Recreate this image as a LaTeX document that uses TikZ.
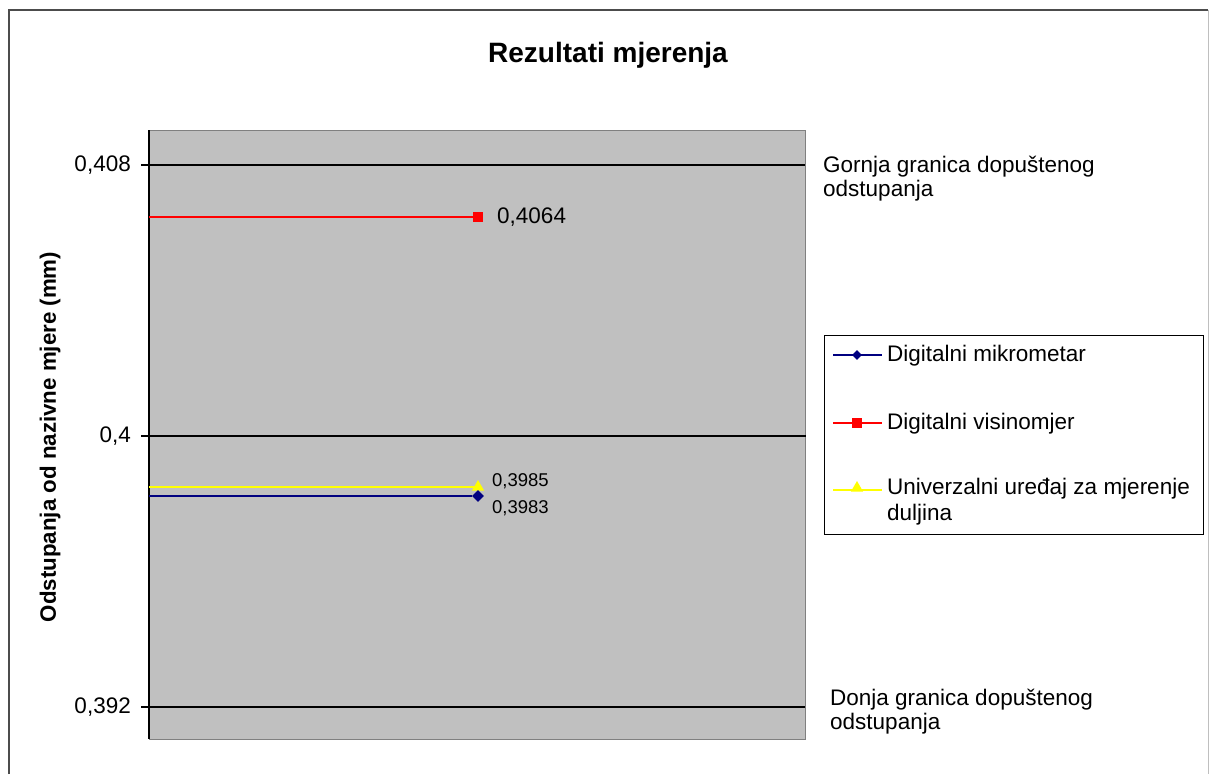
\documentclass[tikz,border=0pt]{standalone}
\usepackage{fontspec}
\setmainfont{Liberation Sans}
\usepackage{xcolor}
\usepackage{tikz}
\usetikzlibrary{shapes}
\definecolor{plotgray}{HTML}{C0C0C0}
\definecolor{navyblue}{HTML}{000080}
\definecolor{pureyellow}{HTML}{FFFF00}
\definecolor{purered}{HTML}{FF0000}
\tikzstyle{txt} = [inner sep=0pt, font=\fontsize{22.5}{24}\selectfont]
\tikzstyle{ticklab} = [txt, anchor=east]
\tikzstyle{smalltxt} = [inner sep=0pt, anchor=west, font=\fontsize{18.5}{20}\selectfont]
\tikzstyle{gridline} = [draw, line width=1.5pt]
\tikzstyle{redline} = [draw=purered, line width=1.2pt]
\tikzstyle{blueline} = [draw=navyblue, line width=1.2pt]
\tikzstyle{yellowline} = [draw=pureyellow, line width=1.5pt]
\tikzstyle{redmark} = [rectangle, fill=purered, inner sep=0pt, minimum size=10pt]
\tikzstyle{bluemark} = [diamond, fill=navyblue, inner sep=0pt, minimum size=12pt]
\tikzstyle{yellowmark} = [regular polygon, regular polygon sides=3, fill=pureyellow, inner sep=0pt, minimum size=14pt]

\begin{document}
\begin{tikzpicture}[x=1pt, y=-1pt]
\useasboundingbox (0,0) rectangle (1209,774);
\draw [draw=black!70, line width=1.5pt] (9,774) -- (9,10) -- (1208,10);
\draw [draw=black!25, line width=1pt] (1208,10) -- (1208,774);
\node [inner sep=0pt, anchor=base, font=\bfseries\fontsize{28}{32}\selectfont] (title) at (608,62) {Rezultati mjerenja};
\node [inner sep=0pt, rotate=90, font=\bfseries\fontsize{22.3}{26}\selectfont] (y-title) at (50,437) {Odstupanja od nazivne mjere (mm)};
\path [fill=plotgray, draw=black!50, line width=1pt] (149,130) rectangle (805,739);
\draw [line width=1.5pt] (149,130) -- (149,739);
\coordinate (tick-408) at (141,165);
\coordinate (grid-408) at (805,165);
\coordinate (tick-400) at (141,436);
\coordinate (grid-400) at (806,436);
\coordinate (tick-392) at (141,707);
\coordinate (grid-392) at (805,707);
\path [gridline] (tick-408) -- (grid-408);
\path [gridline] (tick-400) -- (grid-400);
\path [gridline] (tick-392) -- (grid-392);
\node [ticklab] (lab-408) at (131,165) {0,408};
\node [ticklab] (lab-400) at (131,436) {0,4};
\node [ticklab] (lab-392) at (131,707) {0,392};
\node [txt, anchor=north west, align=left] (upper-lim) at (823,156) {Gornja granica dopuštenog\\odstupanja};
\node [txt, anchor=north west, align=left] (lower-lim) at (830,689) {Donja granica dopuštenog\\odstupanja};
\coordinate (red-start) at (149,217);
\node [redmark] (red-mark) at (478,217) {};
\path [redline] (red-start) -- (red-mark);
\node [txt, anchor=west] (red-value) at (497,217) {0,4064};
\coordinate (yellow-start) at (149,487);
\coordinate (yellow-end) at (478,487);
\path [yellowline] (yellow-start) -- (yellow-end);
\node [yellowmark] (yellow-mark) at (478,487) {};
\coordinate (blue-start) at (149,496);
\node [bluemark] (blue-mark) at (478,496) {};
\path [blueline] (blue-start) -- (blue-mark);
\node [smalltxt] (yellow-value) at (492,481) {0,3985};
\node [smalltxt] (blue-value) at (492,508) {0,3983};
\node [draw, fill=white, line width=1pt, minimum width=379pt, minimum height=199pt, anchor=north west, inner sep=0pt] (legend-box) at (824,335) {};
\coordinate (leg-blue-a) at (833,355);
\coordinate (leg-blue-b) at (882,355);
\path [blueline] (leg-blue-a) -- (leg-blue-b);
\node [bluemark, minimum size=10pt] (leg-blue-mark) at (857,355) {};
\node [txt, anchor=west] (leg-blue-txt) at (887,356) {Digitalni mikrometar};
\coordinate (leg-red-a) at (833,423);
\coordinate (leg-red-b) at (882,423);
\path [redline] (leg-red-a) -- (leg-red-b);
\node [redmark] (leg-red-mark) at (857,423) {};
\node [txt, anchor=west] (leg-red-txt) at (887,424) {Digitalni visinomjer};
\coordinate (leg-yellow-a) at (833,490);
\coordinate (leg-yellow-b) at (882,490);
\path [yellowline] (leg-yellow-a) -- (leg-yellow-b);
\node [yellowmark] (leg-yellow-mark) at (857,488) {};
\node [txt, anchor=north west, align=left, font=\fontsize{22.5}{26}\selectfont] (leg-yellow-txt) at (887,478) {Univerzalni uređaj za mjerenje\\duljina};
\end{tikzpicture}
\end{document}
